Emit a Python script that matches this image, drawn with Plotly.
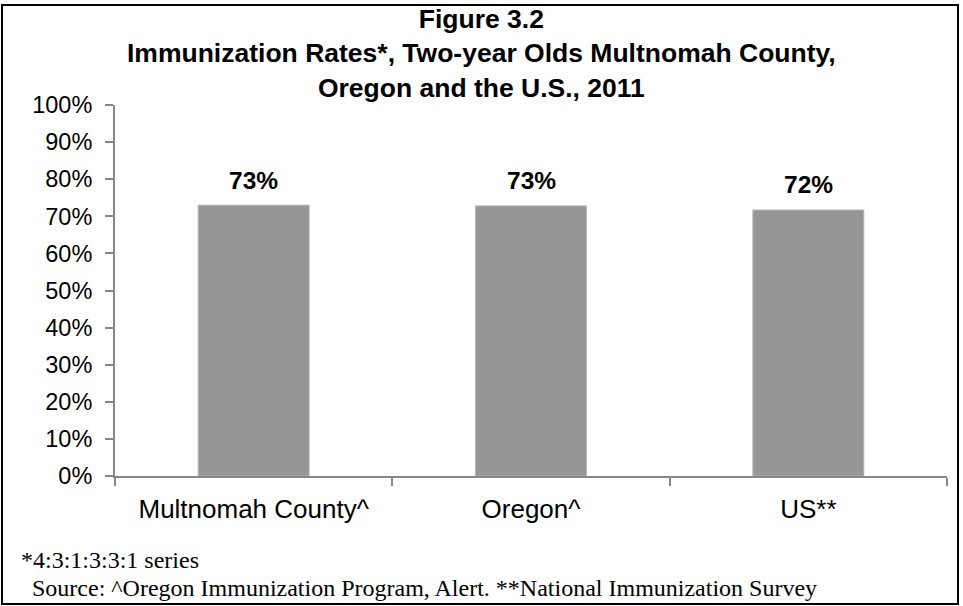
import plotly.graph_objects as go

# data
categories = ["Multnomah County^", "Oregon^", "US**"]
rates = [0.730, 0.728, 0.717]
y_ticks = [0, 0.1, 0.2, 0.3, 0.4, 0.5, 0.6, 0.7, 0.8, 0.9, 1.0]

title_lines = [
    "Figure 3.2",
    "Immunization Rates*, Two-year Olds Multnomah County,",
    "Oregon and the U.S., 2011",
]
footnotes = [
    "*4:3:1:3:3:1 series",
    "Source: ^Oregon Immunization Program, Alert. **National Immunization Survey",
]

W, H = 963, 606
ML, MR, MT, MB = 115, 16, 105, 130
PW, PH = W - ML - MR, H - MT - MB


def px_x(x):
    # pixel -> paper x
    return (x - ML) / PW


def px_y(y):
    # pixel (from top) -> paper y
    return (H - MB - y) / PH


fig = go.Figure()
fig.add_trace(go.Bar(
    x=categories,
    y=rates,
    width=0.4,
    marker=dict(color="#969696", line=dict(color="#b4b4b4", width=1)),
    hoverinfo="skip",
))

# data labels above bars
for c, v in zip(categories, rates):
    fig.add_annotation(
        x=c, y=v, text="<b>%d%%</b>" % round(v * 100),
        showarrow=False, yanchor="middle", yshift=25,
        font=dict(family="Arial", size=24.5, color="#000000"),
    )

# title block
fig.add_annotation(
    xref="paper", yref="paper", x=px_x(481), y=px_y(54),
    xanchor="center", yanchor="middle", showarrow=False,
    text="<b>" + "<br>".join(title_lines) + "</b>",
    font=dict(family="Arial", size=26.5, color="#000000"),
)

# footnotes
for t, xl, yc in zip(footnotes, [19, 30], [560, 588]):
    fig.add_annotation(
        xref="paper", yref="paper", x=px_x(xl), y=px_y(yc),
        xanchor="left", yanchor="middle", showarrow=False, text=t,
        font=dict(family="Liberation Serif, Times New Roman", size=24, color="#000000"),
    )

# outer border of the chart
fig.add_shape(
    type="rect", xref="paper", yref="paper",
    x0=px_x(2), x1=px_x(958), y0=px_y(604), y1=px_y(5),
    line=dict(color="#000000", width=2), layer="above",
)

fig.update_layout(
    template="none",
    width=W, height=H,
    margin=dict(l=ML, r=MR, t=MT, b=MB, autoexpand=False),
    plot_bgcolor="white", paper_bgcolor="white",
    showlegend=False,
    font=dict(family="Arial", color="#000000"),
)
fig.update_xaxes(
    automargin=False,
    showline=True, linecolor="#878787", linewidth=2,
    ticks="outside", tickson="boundaries", ticklen=8, tickcolor="#878787", tickwidth=2,
    tickfont=dict(family="Arial", size=26, color="#000000"),
    ticklabelstandoff=9,
    showgrid=False, zeroline=False,
)
fig.update_yaxes(
    automargin=False,
    range=[0, 1], tickvals=y_ticks, tickformat=".0%",
    showline=True, linecolor="#878787", linewidth=2,
    ticks="outside", ticklen=8, tickcolor="#878787", tickwidth=2,
    tickfont=dict(family="Arial", size=23.5, color="#000000"),
    ticklabelstandoff=8,
    showgrid=False, zeroline=False,
)

# page body has a default 8px margin; drop it so the figure fills the window
fig.write_html(
    "out.html",
    config={"displayModeBar": False},
    post_script="document.body.style.margin='0';",
)
